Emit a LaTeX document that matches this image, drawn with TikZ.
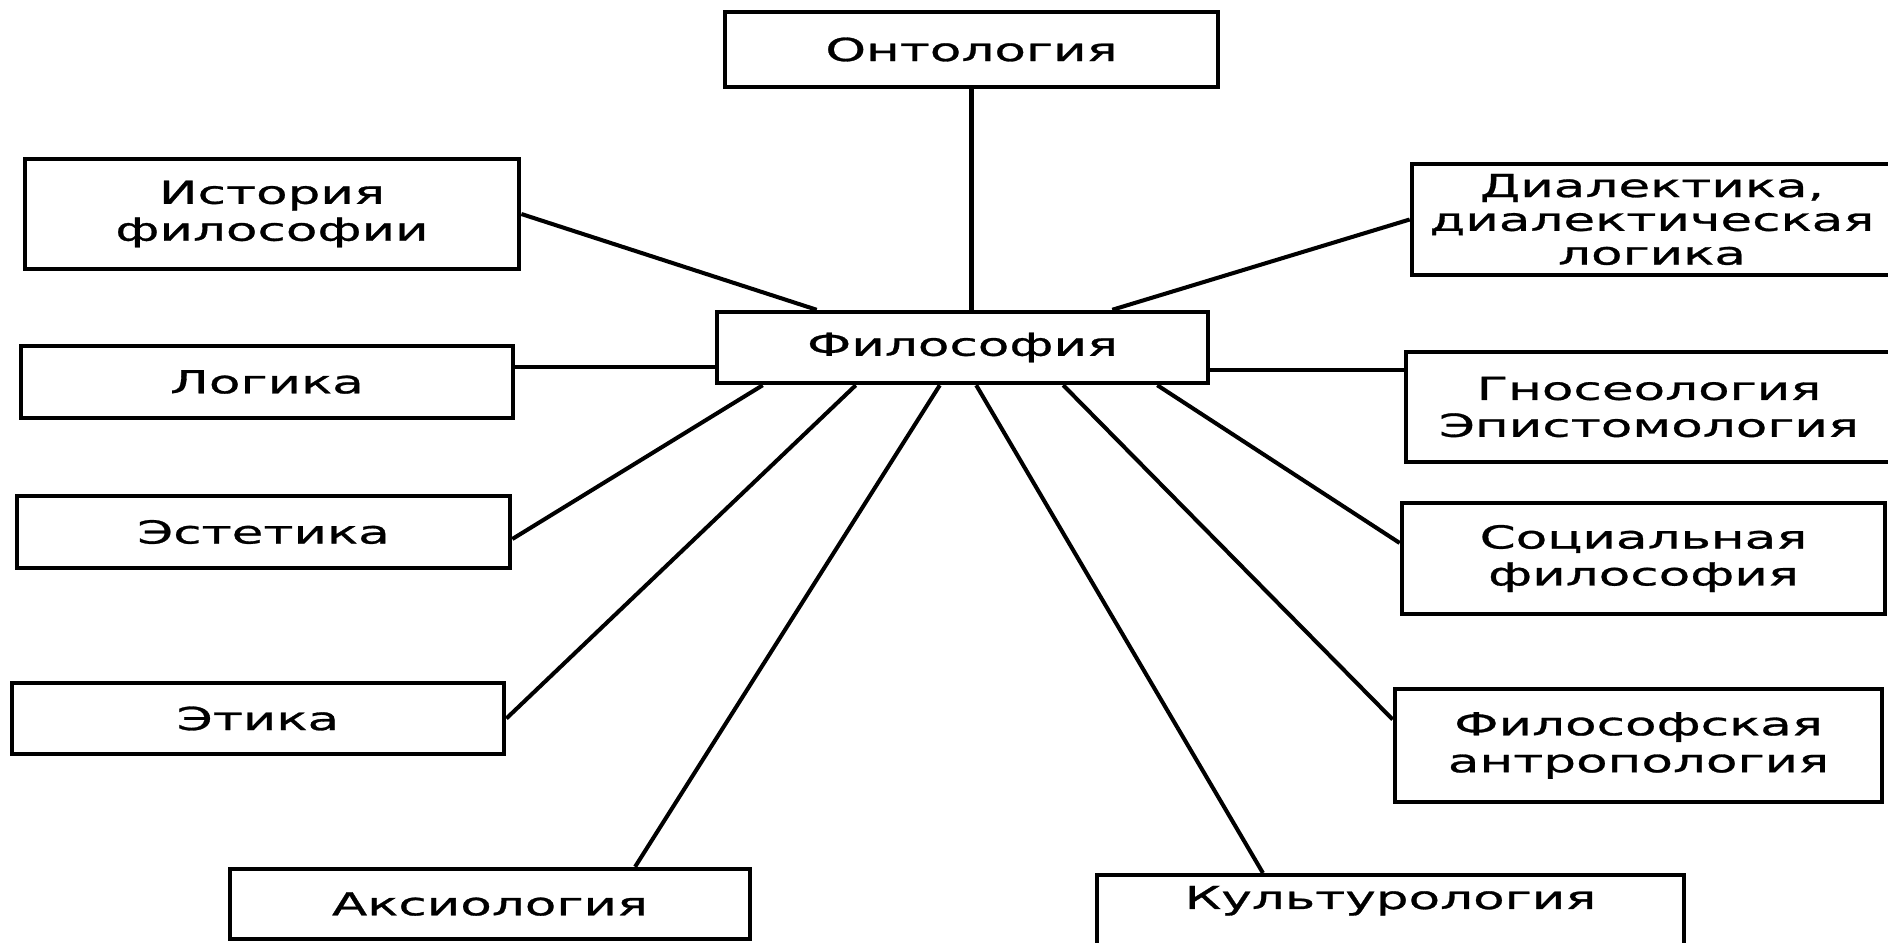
\documentclass[tikz,border=0pt]{standalone}
\usepackage{fontspec}
\setmainfont{DejaVu Sans}[FakeStretch=1.63, FakeBold=0.9]
\usepackage{tikz}

\begin{document}
\begin{tikzpicture}[x=0.01cm, y=-0.01cm,
  box/.style={draw, line width=1.25pt, align=center, inner sep=0pt,
              font=\fontsize{9}{10.5}\selectfont},
  link/.style={line width=1.15pt}]
\useasboundingbox (0,0) rectangle (1888,942);
\node[box, minimum width=4.93cm, minimum height=0.75cm] (onto) at (971.5,49.5) {Онтология};
\node[box, minimum width=4.91cm, minimum height=0.71cm] (fil) at (962.5,347.5) {Философия};
\node[box, minimum width=4.94cm, minimum height=1.10cm] (hist) at (272,214) {История\\философии};
\node[box, minimum width=4.92cm, minimum height=0.72cm] (log) at (267,382) {Логика};
\node[box, minimum width=4.93cm, minimum height=0.72cm] (est) at (263.5,532) {Эстетика};
\node[box, minimum width=4.92cm, minimum height=0.71cm] (eth) at (258,718.5) {Этика};
\node[box, minimum width=5.20cm, minimum height=0.70cm] (axi) at (490,904) {Аксиология};
\node[box, minimum width=4.80cm, minimum height=1.11cm, font=\fontsize{9}{9.6}\selectfont]
      (dia) at (1652,219.5) {Диалектика,\\диалектическая\\логика};
\node[box, minimum width=4.86cm, minimum height=1.10cm] (gno) at (1649,407) {Гносеология\\Эпистомология};
\node[box, minimum width=4.83cm, minimum height=1.11cm] (soc) at (1643.5,558.5) {Социальная\\философия};
\node[box, minimum width=4.87cm, minimum height=1.13cm] (ant) at (1638.5,745.5) {Философская\\антропология};
\node[box, minimum width=5.87cm, text height=6.6pt, text depth=9pt, inner ysep=3pt,
      anchor=north] (kul) at (1390.5,873) {Культурология};

\draw[link] (onto.south) -- (onto.south |- fil.north);
\draw[link] (hist.east) -- ([xshift=1.02cm]fil.north west);
\draw[link] (dia.west) -- ([xshift=-0.98cm]fil.north east);
\draw[link] ([yshift=0.15cm]log.east) -- ([yshift=0.15cm]log.east -| fil.west);
\draw[link] ([yshift=0.37cm]gno.west) -- ([yshift=0.37cm]gno.west -| fil.east);
\draw[link] ([xshift=0.48cm]fil.south west) -- ([yshift=-0.07cm]est.east);
\draw[link] ([xshift=1.41cm]fil.south west) -- (eth.east);
\draw[link] ([xshift=2.25cm]fil.south west) -- ([xshift=1.45cm]axi.north);
\draw[link] ([xshift=-2.34cm]fil.south east) -- ([xshift=-1.275cm]kul.north);
\draw[link] ([xshift=-1.47cm]fil.south east) -- ([yshift=0.26cm]ant.west);
\draw[link] ([xshift=-0.53cm]fil.south east) -- ([yshift=0.155cm]soc.west);
\end{tikzpicture}
\end{document}
